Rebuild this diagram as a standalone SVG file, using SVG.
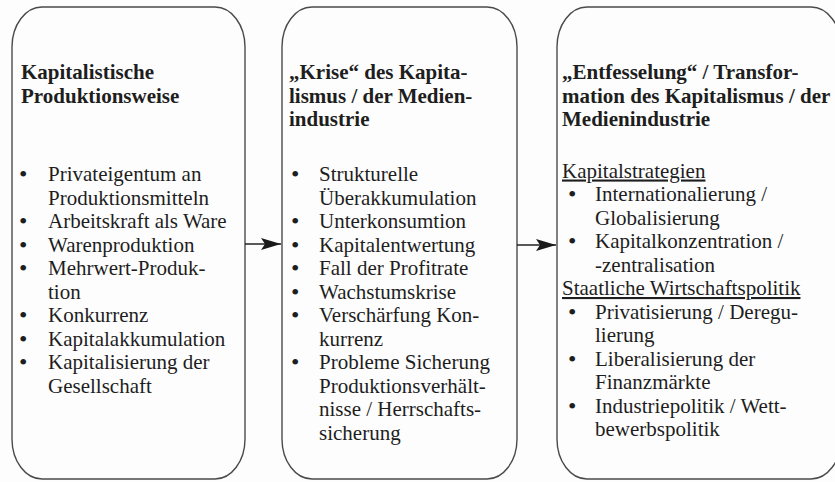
<svg xmlns="http://www.w3.org/2000/svg" width="835" height="482" viewBox="0 0 835 482">
<defs>
<style>
.box{fill:none;stroke:#4a4a4a;stroke-width:1.4}
text{font-family:'Liberation Serif','Times New Roman',serif;font-size:21px;fill:#1e1e1e}
.t{font-weight:bold}
.u{text-decoration:underline}
.d{font-size:24px}
.conn{stroke:#222;stroke-width:1.6;fill:none}
</style>
<marker id="ah" viewBox="0 0 20 12" refX="20" refY="6" markerWidth="20" markerHeight="12" markerUnits="userSpaceOnUse" orient="auto">
<path d="M0,0 L20,6 L0,12 L4,6 Z" fill="#1a1a1a"/>
</marker>
</defs>
<rect width="835" height="482" fill="#fdfdfd"/>
<g id="node1">
<rect class="box" x="12" y="7" width="233" height="472" rx="30" ry="40"/>
<text class="t" x="21" y="79">Kapitalistische</text>
<text class="t" x="21" y="102.5">Produktionsweise</text>
<text class="d" x="19" y="182">•</text>
<text x="48" y="181">Privateigentum an</text>
<text x="48" y="204.5">Produktionsmitteln</text>
<text class="d" x="19" y="229">•</text>
<text x="48" y="228">Arbeitskraft als Ware</text>
<text class="d" x="19" y="252.5">•</text>
<text x="48" y="251.5">Warenproduktion</text>
<text class="d" x="19" y="276">•</text>
<text x="48" y="275">Mehrwert-Produk-</text>
<text x="48" y="298.5">tion</text>
<text class="d" x="19" y="323">•</text>
<text x="48" y="322">Konkurrenz</text>
<text class="d" x="19" y="346.5">•</text>
<text x="48" y="345.5">Kapitalakkumulation</text>
<text class="d" x="19" y="370">•</text>
<text x="48" y="369">Kapitalisierung der</text>
<text x="48" y="392.5">Gesellschaft</text>
</g>
<g id="node2">
<rect class="box" x="282" y="7" width="235" height="472" rx="30" ry="40"/>
<text class="t" x="289" y="79">„Krise“ des Kapita-</text>
<text class="t" x="289" y="102.5">lismus / der Medien-</text>
<text class="t" x="289" y="126">industrie</text>
<text class="d" x="291" y="182">•</text>
<text x="319" y="181">Strukturelle</text>
<text x="319" y="204.5">Überakkumulation</text>
<text class="d" x="291" y="229">•</text>
<text x="319" y="228">Unterkonsumtion</text>
<text class="d" x="291" y="252.5">•</text>
<text x="319" y="251.5">Kapitalentwertung</text>
<text class="d" x="291" y="276">•</text>
<text x="319" y="275">Fall der Profitrate</text>
<text class="d" x="291" y="299.5">•</text>
<text x="319" y="298.5">Wachstumskrise</text>
<text class="d" x="291" y="323">•</text>
<text x="319" y="322">Verschärfung Kon-</text>
<text x="319" y="345.5">kurrenz</text>
<text class="d" x="291" y="370">•</text>
<text x="319" y="369">Probleme Sicherung</text>
<text x="319" y="392.5">Produktionsverhält-</text>
<text x="319" y="416">nisse / Herrschafts-</text>
<text x="319" y="439.5">sicherung</text>
</g>
<g id="node3">
<rect class="box" x="557" y="7" width="284" height="472" rx="30" ry="40"/>
<text class="t" x="562" y="79">„Entfesselung“ / Transfor-</text>
<text class="t" x="562" y="102.5">mation des Kapitalismus / der</text>
<text class="t" x="562" y="126">Medienindustrie</text>
<text class="u" x="562" y="177.5">Kapitalstrategien</text>
<text class="d" x="568" y="202">•</text>
<text x="595" y="201">Internationalierung /</text>
<text x="595" y="224.5">Globalisierung</text>
<text class="d" x="568" y="249">•</text>
<text x="595" y="248">Kapitalkonzentration /</text>
<text x="595" y="271.5">-zentralisation</text>
<text class="u" x="562" y="295">Staatliche Wirtschaftspolitik</text>
<text class="d" x="568" y="319.5">•</text>
<text x="595" y="318.5">Privatisierung / Deregu-</text>
<text x="595" y="342">lierung</text>
<text class="d" x="568" y="366.5">•</text>
<text x="595" y="365.5">Liberalisierung der</text>
<text x="595" y="389">Finanzmärkte</text>
<text class="d" x="568" y="413.5">•</text>
<text x="595" y="412.5">Industriepolitik / Wett-</text>
<text x="595" y="436">bewerbspolitik</text>
</g>
<g id="connectors">
<line class="conn" x1="245" y1="244" x2="281" y2="244" marker-end="url(#ah)"/>
<line class="conn" x1="517" y1="245" x2="556" y2="245" marker-end="url(#ah)"/>
</g>
</svg>
